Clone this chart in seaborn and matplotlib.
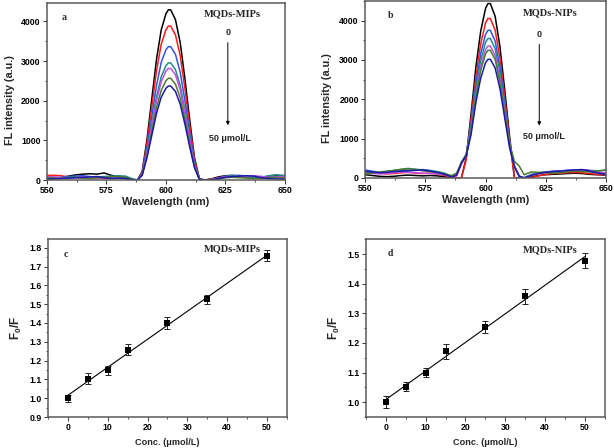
import numpy as np
import pandas as pd
import matplotlib
matplotlib.use("Agg")
import matplotlib.pyplot as plt
from matplotlib.ticker import MultipleLocator
import seaborn as sns

# ---- data ----
wl = [550, 553, 556, 559, 562, 565, 568, 571, 574, 577, 580, 583, 586,
      588, 590, 592, 594, 596, 598, 600, 601, 602, 604, 606, 608, 610, 612, 614, 616,
      619, 622, 625, 628, 631, 634, 637, 640, 643, 646, 650]

curve_names = ["0", "5", "10", "15", "25", "35", "50"]
curve_colors = ["#000000", "#ff1a1a", "#3355dd", "#1f8a8a", "#c24ee8", "#4d7a2e", "#1a1aa8"]

# panel a (MQDs-MIPs)
mip_black = [30, 40, 60, 100, 130, 150, 160, 150, 180, 120, 90, 70, 20,
             0, 215, 1010, 2021, 3032, 3784, 4193, 4291, 4291, 4042, 3462, 2537, 1505, 559, 43, 0,
             30, 80, 110, 120, 100, 80, 60, 70, 90, 120, 100]
mip_red = [120, 120, 110, 80, 70, 60, 50, 60, 40, 50, 60, 50, 10,
           0, 195, 914, 1828, 2742, 3423, 3793, 3882, 3882, 3657, 3131, 2295, 1362, 506, 39, 0,
           20, 60, 90, 100, 90, 70, 50, 40, 60, 70, 50]
mip_blue = [50, 60, 70, 90, 100, 110, 90, 70, 80, 60, 70, 60, 10,
            0, 169, 792, 1584, 2376, 2966, 3286, 3363, 3363, 3168, 2713, 1988, 1180, 438, 34, 0,
            10, 50, 100, 110, 120, 90, 80, 90, 70, 80, 60]
mip_teal = [80, 70, 50, 60, 80, 70, 60, 80, 90, 100, 110, 100, 30,
            0, 148, 696, 1391, 2087, 2605, 2886, 2954, 2954, 2782, 2383, 1746, 1036, 385, 30, 0,
            10, 40, 90, 110, 100, 80, 60, 70, 110, 130, 120]
mip_magenta = [90, 80, 60, 50, 60, 80, 70, 50, 60, 70, 50, 40, 10,
               0, 141, 663, 1325, 1988, 2482, 2750, 2814, 2814, 2651, 2270, 1664, 987, 367, 28, 0,
               10, 50, 80, 90, 80, 100, 110, 90, 70, 80, 90]
mip_olive = [60, 50, 40, 60, 70, 50, 40, 60, 70, 80, 90, 70, 20,
             0, 129, 604, 1208, 1812, 2262, 2506, 2565, 2565, 2416, 2069, 1516, 900, 334, 26, 0,
             0, 30, 60, 70, 60, 50, 40, 50, 60, 70, 50]
mip_navy = [20, 30, 40, 50, 60, 70, 80, 90, 60, 40, 50, 40, 10,
            0, 119, 558, 1116, 1674, 2090, 2316, 2370, 2370, 2233, 1912, 1401, 831, 309, 24, 0,
            0, 40, 70, 90, 100, 110, 100, 60, 40, 30, 20]

# panel b (MQDs-NIPs)
nip_black = [80, 60, 40, 30, 40, 60, 70, 60, 50, 60, 50, 30, 0,
             0, 0, 511, 1621, 2819, 3730, 4307, 4431, 4431, 4107, 3330, 2220, 1043, 0, 0, 0,
             20, 60, 80, 90, 100, 110, 120, 110, 90, 80, 70]
nip_red = [150, 140, 120, 100, 110, 130, 140, 120, 110, 120, 100, 60, 10,
           0, 0, 467, 1482, 2578, 3410, 3938, 4052, 4052, 3756, 3045, 2030, 954, 0, 0, 0,
           10, 50, 90, 110, 120, 130, 140, 130, 110, 90, 80]
nip_blue = [200, 170, 140, 150, 170, 180, 190, 200, 210, 190, 150, 100, 30,
            80, 380, 600, 1372, 2388, 3158, 3647, 3752, 3752, 3478, 2820, 1880, 900, 300, 40, 0,
            80, 120, 150, 170, 180, 190, 200, 190, 160, 130, 100]
nip_teal = [150, 140, 130, 160, 190, 210, 230, 220, 200, 180, 160, 120, 30,
            60, 370, 580, 1296, 2254, 2982, 3444, 3543, 3543, 3284, 2663, 1775, 860, 290, 40, 0,
            90, 130, 150, 160, 150, 170, 190, 200, 190, 180, 190]
nip_magenta = [120, 110, 100, 110, 130, 150, 140, 130, 120, 110, 100, 80, 20,
               50, 350, 560, 1226, 2134, 2822, 3259, 3353, 3353, 3108, 2520, 1680, 820, 280, 30, 0,
               70, 110, 140, 160, 170, 180, 200, 210, 190, 150, 120]
nip_olive = [100, 120, 150, 170, 190, 220, 240, 210, 180, 160, 130, 100, 60,
             120, 400, 600, 1186, 2064, 2730, 3153, 3244, 3244, 3006, 2438, 1625, 850, 420, 300, 80,
             150, 140, 130, 120, 130, 150, 170, 160, 150, 170, 200]
nip_navy = [170, 150, 130, 140, 160, 170, 180, 190, 200, 170, 140, 90, 20,
            70, 380, 560, 1102, 1918, 2537, 2929, 3014, 3014, 2794, 2265, 1510, 760, 280, 40, 0,
            60, 110, 140, 160, 170, 190, 200, 210, 180, 130, 90]

# panels c and d: Stern-Volmer plots
conc = [0, 5, 10, 15, 25, 35, 50]
mip_ratio = [1.00, 1.105, 1.148, 1.258, 1.40, 1.525, 1.758]
mip_err = [0.018, 0.03, 0.025, 0.03, 0.03, 0.025, 0.03]
nip_ratio = [1.00, 1.052, 1.10, 1.172, 1.255, 1.357, 1.478]
nip_err = [0.02, 0.015, 0.015, 0.025, 0.02, 0.025, 0.025]

# ---- style ----
sns.set_style("ticks")
plt.rcParams["font.family"] = ["Liberation Sans", "DejaVu Sans"]
plt.rcParams["font.weight"] = "bold"
plt.rcParams["mathtext.fontset"] = "custom"
plt.rcParams["mathtext.rm"] = "Liberation Sans:bold"
plt.rcParams["mathtext.bf"] = "Liberation Sans:bold"
plt.rcParams["mathtext.it"] = "Liberation Sans:bold"

fig = plt.figure(figsize=(6.14, 4.48), dpi=100)
ax_a = fig.add_axes([0.0765, 0.598, 0.3876, 0.395])
ax_b = fig.add_axes([0.5945, 0.603, 0.3925, 0.395])
ax_c = fig.add_axes([0.0782, 0.069, 0.389, 0.397])
ax_d = fig.add_axes([0.596, 0.069, 0.389, 0.397])

serif = ["Liberation Serif", "DejaVu Serif"]
tick_fs = 6.3


def frame(ax, fs=tick_fs):
    for s in ax.spines.values():
        s.set_color("#5a5a5a")
        s.set_linewidth(1.1)
    ax.tick_params(which="major", direction="out", length=3, width=0.7,
                   labelsize=fs, pad=1.5, colors="#333333", labelcolor="black")
    ax.tick_params(which="minor", direction="out", length=1.7, width=0.6, colors="#333333")
    for t in ax.get_xticklabels() + ax.get_yticklabels():
        t.set_fontweight("bold")


def spectra(ax, curves, ylim):
    rows = []
    for name, vals in zip(curve_names, curves):
        for w, v in zip(wl, vals):
            rows.append({"wl": w, "fl": v, "conc": name})
    df = pd.DataFrame(rows)
    sns.lineplot(data=df, x="wl", y="fl", hue="conc", palette=curve_colors,
                 sort=False, legend=False, linewidth=1.1, ax=ax)
    ax.set_xlim(550, 650)
    ax.set_ylim(*ylim)
    ax.xaxis.set_major_locator(MultipleLocator(25))
    ax.xaxis.set_minor_locator(MultipleLocator(12.5))
    ax.yaxis.set_major_locator(MultipleLocator(1000))
    ax.yaxis.set_minor_locator(MultipleLocator(500))
    ax.set_xlabel("Wavelength (nm)", fontsize=7.8, fontweight="bold", labelpad=1.5)
    ax.set_ylabel("FL intensity (a.u.)", fontsize=7.8, fontweight="bold")
    ax.yaxis.set_label_coords(-0.135, 0.45)
    frame(ax)


spectra(ax_a, [mip_black, mip_red, mip_blue, mip_teal, mip_magenta, mip_olive, mip_navy], (0, 4460))
spectra(ax_b, [nip_black, nip_red, nip_blue, nip_teal, nip_magenta, nip_olive, nip_navy], (0, 4500))

# annotations on spectra
ax_a.text(556.3, 4090, "a", family=serif, fontweight="bold", fontsize=7, va="center")
ax_a.text(627.7, 4190, "MQDs-MIPs", family=serif, fontweight="bold", fontsize=7.5, ha="center", va="center")
ax_a.text(626, 3712, "0", fontsize=6.5, fontweight="bold", ha="center", va="center")
ax_a.annotate("", xy=(626, 1313), xytext=(626, 3535),
              arrowprops=dict(arrowstyle="-|>", color="black", lw=0.7, mutation_scale=5))
ax_a.text(627, 1060, "50 \u03bcmol/L", fontsize=6.5, fontweight="bold", ha="center", va="center")

ax_b.text(559.3, 4120, "b", family=serif, fontweight="bold", fontsize=7, va="center")
ax_b.text(626.8, 4204, "MQDs-NIPs", family=serif, fontweight="bold", fontsize=7.5, ha="center", va="center")
ax_b.text(622.3, 3653, "0", fontsize=6.5, fontweight="bold", ha="center", va="center")
ax_b.annotate("", xy=(622.3, 1258), xytext=(622.3, 3465),
              arrowprops=dict(arrowstyle="-|>", color="black", lw=0.7, mutation_scale=5))
ax_b.text(624.2, 1045, "50 \u03bcmol/L", fontsize=6.5, fontweight="bold", ha="center", va="center")


def stern_volmer(ax, y, err, ylim, letter, label, letter_xy, label_xy):
    sns.regplot(x=np.array(conc), y=np.array(y), ax=ax, scatter=False, ci=None,
                line_kws=dict(color="black", lw=0.8))
    ax.errorbar(conc, y, yerr=err, fmt="none", ecolor="#222222", elinewidth=0.7,
                capsize=2, capthick=0.7)
    sns.scatterplot(x=conc, y=y, marker="s", color="black", s=15, linewidth=0, ax=ax, zorder=5)
    ax.set_xlim(-5, 55)
    ax.set_ylim(*ylim)
    ax.xaxis.set_major_locator(MultipleLocator(10))
    ax.xaxis.set_minor_locator(MultipleLocator(5))
    ax.yaxis.set_major_locator(MultipleLocator(0.1))
    ax.yaxis.set_minor_locator(MultipleLocator(0.05))
    ax.yaxis.set_major_formatter(plt.FormatStrFormatter("%.1f"))
    ax.set_xlabel("Conc. (\u03bcmol/L)", fontsize=6.6, fontweight="bold", labelpad=4)
    ax.set_ylabel(r"$\mathregular{F_0/F}$", fontsize=8.5, fontweight="bold", labelpad=4)
    ax.text(*letter_xy, letter, family=serif, fontweight="bold", fontsize=7, va="center")
    ax.text(*label_xy, label, family=serif, fontweight="bold", fontsize=7.5, ha="center", va="center")
    frame(ax)


stern_volmer(ax_c, mip_ratio, mip_err, (0.9, 1.845), "c", "MQDs-MIPs", (-1.0, 1.765), (41.3, 1.797))
stern_volmer(ax_d, nip_ratio, nip_err, (0.95, 1.55), "d", "MQDs-NIPs", (0.35, 1.5015), (41.4, 1.516))

fig.savefig("out.png", dpi=100)
